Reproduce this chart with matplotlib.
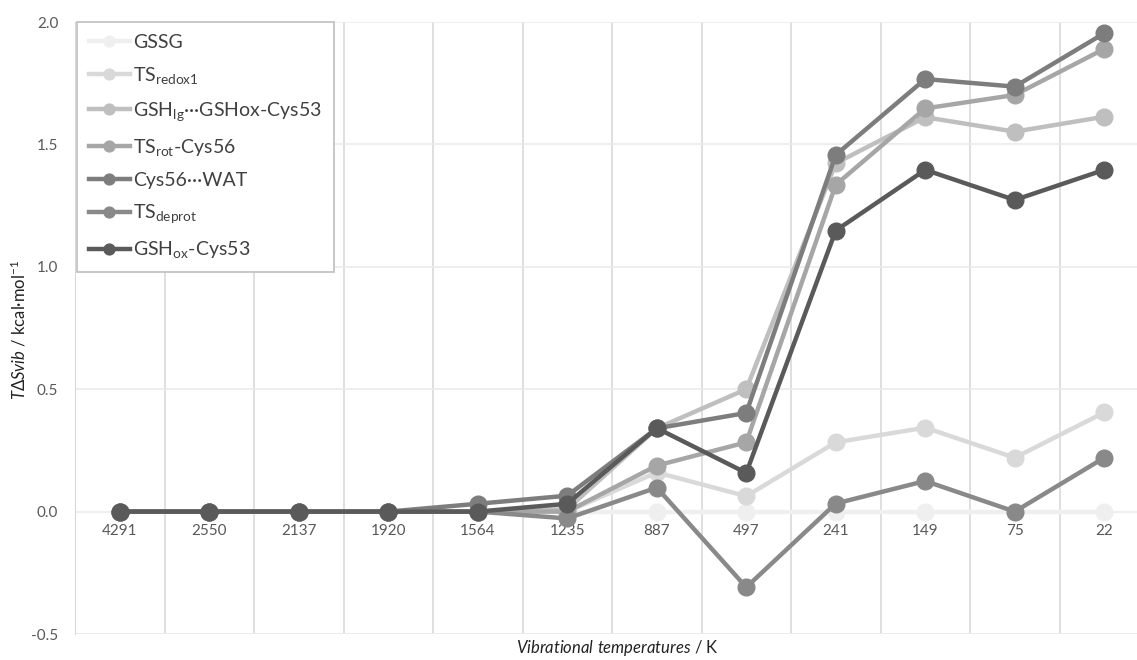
import numpy as np
import matplotlib
matplotlib.use("Agg")
from matplotlib import pyplot as plt

plt.rcParams['font.family'] = ['Lato', 'DejaVu Sans']
plt.rcParams['mathtext.fontset'] = 'custom'
plt.rcParams['mathtext.rm'] = 'Lato'
plt.rcParams['mathtext.it'] = 'Lato:italic'

temps = ["4291", "2550", "2137", "1920", "1564", "1235", "887", "497", "241", "149", "75", "22"]

gssg      = [0, 0, 0, 0, 0, 0, 0, 0, 0, 0, 0, 0]
ts_redox1 = [0, 0, 0, 0, 0, 0.0, 0.16, 0.063, 0.283, 0.343, 0.22, 0.405]
gsh_lg    = [0, 0, 0, 0, 0, 0.01, 0.34, 0.50, 1.423, 1.611, 1.552, 1.613]
ts_rot    = [0, 0, 0, 0, 0, 0.0, 0.188, 0.283, 1.335, 1.647, 1.702, 1.89]
cys56_wat = [0, 0, 0, 0, 0.032, 0.065, 0.34, 0.403, 1.457, 1.767, 1.736, 1.954]
ts_deprot = [0, 0, 0, 0, 0.0, -0.028, 0.098, -0.309, 0.033, 0.125, 0.0, 0.22]
gsh_ox    = [0, 0, 0, 0, 0, 0.032, 0.341, 0.158, 1.148, 1.396, 1.273, 1.396]

series = [
    (gssg, "GSSG", "#efefef"),
    (ts_redox1, r"TS$_{\mathrm{redox1}}$", "#d9d9d9"),
    (gsh_lg, r"GSH$_{\mathrm{lg}}$···GSHox-Cys53", "#bfbfbf"),
    (ts_rot, r"TS$_{\mathrm{rot}}$-Cys56", "#a6a6a6"),
    (cys56_wat, "Cys56···WAT", "#7d7d7d"),
    (ts_deprot, r"TS$_{\mathrm{deprot}}$", "#898989"),
    (gsh_ox, r"GSH$_{\mathrm{ox}}$-Cys53", "#5a5a5a"),
]

fig = plt.figure(figsize=(11.37, 6.6), dpi=100)
ax = fig.add_axes([75/1137, 26/660, 1074/1137, 612/660])

x = np.arange(len(temps))
for vals, name, col in series:
    ax.plot(x, vals, color=col, lw=3.2, marker='o', markersize=12, label=name,
            solid_joinstyle='round')

ax.set_xlim(-0.5, len(temps) - 0.5)
ax.set_ylim(-0.5, 2.0)
ax.set_yticks([-0.5, 0.0, 0.5, 1.0, 1.5, 2.0])
ax.set_yticklabels(["-0.5", "0.0", "0.5", "1.0", "1.5", "2.0"])
ax.set_xticks(x)
ax.set_xticklabels(temps)
ax.set_xticks(x[:-1] + 0.5, minor=True)

ax.grid(axis='y', which='major', color='#ebebeb', lw=1.2)
ax.grid(axis='x', which='minor', color='#d9d9d9', lw=1.2)
ax.set_axisbelow(True)
for s in ['top', 'right', 'bottom']:
    ax.spines[s].set_visible(False)
ax.spines['left'].set_color('#d9d9d9')
ax.spines['bottom'].set_position(('data', 0))
ax.tick_params(axis='both', which='both', length=0, colors='#595959', labelsize=11)
ax.tick_params(axis='x', pad=9)
ax.tick_params(axis='y', pad=12)
ax.axhline(-0.5, color='#ebebeb', lw=1.2)

fig.text(617/1137, 1 - 648/660, r"$\mathit{Vibrational\ temperatures}$ / K",
         ha='center', va='center', fontsize=12, color='#222222')
fig.text(19/1137, 1 - 330/660, r"$\mathit{T\Delta Svib}$ / kcal·mol$^{-1}$",
         ha='center', va='center', rotation=90, fontsize=12, color='#222222')

leg = ax.legend(loc='upper left', bbox_to_anchor=(2/1074, 1.0), fontsize=14,
                frameon=True, fancybox=False, edgecolor='#bfbfbf', framealpha=1,
                markerscale=0.65, handlelength=2.1, handletextpad=0.2,
                labelspacing=0.72, borderpad=0.6, borderaxespad=0)
leg.get_frame().set_linewidth(1.2)
for t in leg.get_texts():
    t.set_color('#404040')

fig.savefig("out.png", dpi=100)
